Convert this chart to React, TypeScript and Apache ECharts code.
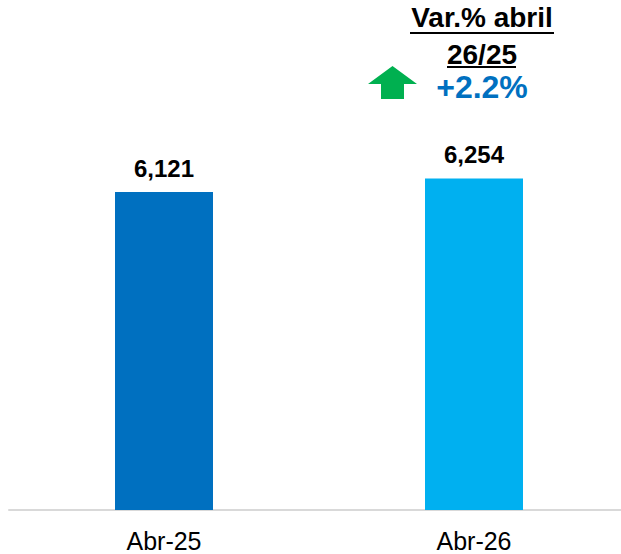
import React, { useEffect, useRef } from "react";
import * as echarts from "echarts";

const categories = ["Abr-25", "Abr-26"];
const values = [6121, 6254];
const barColors = ["#0070C0", "#00B0F0"];
const titleLines = ["Var.% abril", "26/25"];
const variationText = "+2.2%";

export default function App() {
  const ref = useRef<HTMLDivElement>(null);
  useEffect(() => {
    if (!ref.current) return;
    const chart = echarts.init(ref.current, null, { renderer: "svg" });
    const font = "Arial, 'Liberation Sans', sans-serif";
    chart.setOption({
      animation: false,
      grid: { left: 9, width: 620, top: 102.5, bottom: 44, containLabel: false },
      xAxis: {
        type: "category",
        data: categories,
        axisLine: { show: true, lineStyle: { color: "#D9D9D9", width: 2 } },
        axisTick: { show: false },
        axisLabel: { color: "#000", fontSize: 25, fontFamily: font, margin: 18 },
      },
      yAxis: {
        type: "value",
        min: 3000,
        max: 7000,
        show: false,
        splitLine: { show: false },
      },
      series: [
        {
          type: "bar",
          barWidth: 98,
          data: values.map((v, i) => ({ value: v, itemStyle: { color: barColors[i] } })),
          label: {
            show: true,
            position: "top",
            distance: 12,
            color: "#000",
            fontSize: 24,
            fontWeight: "bold",
            fontFamily: font,
            formatter: (p: any) => p.value.toLocaleString("en-US"),
          },
        },
      ],
      graphic: [
        {
          type: "text",
          x: 482,
          y: 3,
          style: {
            text: titleLines[0],
            fill: "#000",
            font: `bold 28px ${font}`,
            textAlign: "center",
            textVerticalAlign: "top",
          },
        },
        {
          type: "text",
          x: 482,
          y: 40,
          style: {
            text: titleLines[1],
            fill: "#000",
            font: `bold 28px ${font}`,
            textAlign: "center",
            textVerticalAlign: "top",
          },
        },
        { type: "line", shape: { x1: 410, y1: 33, x2: 554, y2: 33 }, style: { stroke: "#000", lineWidth: 2 } },
        { type: "line", shape: { x1: 447, y1: 67, x2: 516, y2: 67 }, style: { stroke: "#000", lineWidth: 2 } },
        {
          type: "text",
          x: 482,
          y: 71,
          style: {
            text: variationText,
            fill: "#0070C0",
            font: `bold 32px ${font}`,
            textAlign: "center",
            textVerticalAlign: "top",
          },
        },
        {
          type: "polygon",
          shape: {
            points: [
              [392.5, 66],
              [417, 84],
              [404, 84],
              [404, 99],
              [381, 99],
              [381, 84],
              [368, 84],
            ],
          },
          style: { fill: "#00B050" },
        },
      ],
    });
    return () => chart.dispose();
  }, []);
  return (
    <div style={{ position: "absolute", left: 0, top: 0, width: 621, height: 554, overflow: "hidden" }}>
      <div ref={ref} style={{ width: 630, height: 554 }} />
    </div>
  );
}
